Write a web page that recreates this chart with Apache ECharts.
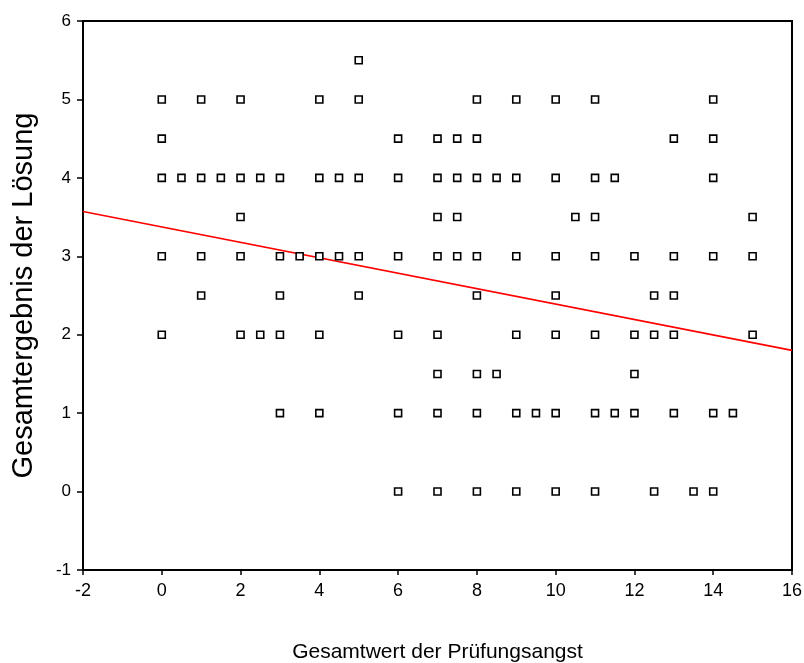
<!DOCTYPE html>
<html>
<head>
<meta charset="utf-8">
<script src="https://cdn.jsdelivr.net/npm/echarts@6/dist/echarts.min.js"></script>
<style>
html,body{margin:0;padding:0;background:#fff;}
#chart{width:804px;height:663px;}
</style>
</head>
<body>
<div id="chart"></div>
<script>
// Y levels (Gesamtergebnis der Lösung) and the x values (Gesamtwert der Prüfungsangst) observed at each level
const scoreLevels = [5.5, 5, 4.5, 4, 3.5, 3, 2.5, 2, 1.5, 1, 0];
const anxietyAt55 = [5];
const anxietyAt5 = [0, 1, 2, 4, 5, 8, 9, 10, 11, 14];
const anxietyAt45 = [0, 6, 7, 7.5, 8, 13, 14];
const anxietyAt4 = [0, 0.5, 1, 1.5, 2, 2.5, 3, 4, 4.5, 5, 6, 7, 7.5, 8, 8.5, 9, 10, 11, 11.5, 14];
const anxietyAt35 = [2, 7, 7.5, 10.5, 11, 15];
const anxietyAt3 = [0, 1, 2, 3, 3.5, 4, 4.5, 5, 6, 7, 7.5, 8, 9, 10, 11, 12, 13, 14, 15];
const anxietyAt25 = [1, 3, 5, 8, 10, 12.5, 13];
const anxietyAt2 = [0, 2, 2.5, 3, 4, 6, 7, 9, 10, 11, 12, 12.5, 13, 15];
const anxietyAt15 = [7, 8, 8.5, 12];
const anxietyAt1 = [3, 4, 6, 7, 8, 9, 9.5, 10, 11, 11.5, 12, 13, 14, 14.5];
const anxietyAt0 = [6, 7, 8, 9, 10, 11, 12.5, 13.5, 14];
const anxietyByLevel = [anxietyAt55, anxietyAt5, anxietyAt45, anxietyAt4, anxietyAt35, anxietyAt3,
  anxietyAt25, anxietyAt2, anxietyAt15, anxietyAt1, anxietyAt0];

// Regression line end points
const fitX = [-2, 16];
const fitY = [3.57, 1.80];

// Axis ticks
const xTicks = { min: -2, max: 16, interval: 2 };
const yTicks = { min: -1, max: 6, interval: 1 };

const xTitle = 'Gesamtwert der Prüfungsangst';
const yTitle = 'Gesamtergebnis der Lösung';

const points = [];
scoreLevels.forEach((lvl, i) => {
  anxietyByLevel[i].forEach(x => points.push([x, lvl]));
});
const fitLine = fitX.map((x, i) => [x, fitY[i]]);

const chart = echarts.init(document.getElementById('chart'), null, {renderer: 'canvas'});
const font = 'Liberation Sans, Arial, sans-serif';
chart.setOption({
  animation: false,
  backgroundColor: '#ffffff',
  grid: {
    left: 83, right: 12, top: 21, bottom: 93,
    show: true, borderColor: '#000', borderWidth: 2, backgroundColor: 'transparent',
    containLabel: false,
    outerBoundsMode: 'none'
  },
  xAxis: {
    type: 'value',
    min: xTicks.min, max: xTicks.max, interval: xTicks.interval,
    name: xTitle, nameLocation: 'middle', nameGap: 72,
    nameTextStyle: { fontFamily: font, fontSize: 21, color: '#000' },
    axisLine: { show: true, onZero: false, lineStyle: { color: '#000', width: 2 } },
    axisTick: { show: true, inside: false, length: 5, lineStyle: { color: '#000', width: 1.5 } },
    axisLabel: { show: true, margin: 12, fontFamily: font, fontSize: 18, color: '#000' },
    splitLine: { show: false }
  },
  yAxis: {
    type: 'value',
    min: yTicks.min, max: yTicks.max, interval: yTicks.interval,
    name: yTitle, nameLocation: 'middle', nameGap: 45, nameRotate: 90,
    nameTextStyle: { fontFamily: font, fontSize: 29, color: '#000' },
    axisLine: { show: true, onZero: false, lineStyle: { color: '#000', width: 2 } },
    axisTick: { show: true, inside: false, length: 6, lineStyle: { color: '#000', width: 1.5 } },
    axisLabel: { show: true, margin: 12, fontFamily: font, fontSize: 17, color: '#000' },
    splitLine: { show: false }
  },
  series: [
    {
      type: 'line',
      data: fitLine,
      showSymbol: false,
      symbol: 'none',
      lineStyle: { color: '#ff0000', width: 1.6 },
      clip: true,
      z: 1,
      silent: true
    },
    {
      type: 'scatter',
      data: points,
      symbol: 'rect',
      symbolSize: 7,
      itemStyle: { color: '#ffffff', borderColor: '#000', borderWidth: 1.6, opacity: 1 },
      z: 2,
      silent: true
    }
  ]
});
</script>
</body>
</html>
